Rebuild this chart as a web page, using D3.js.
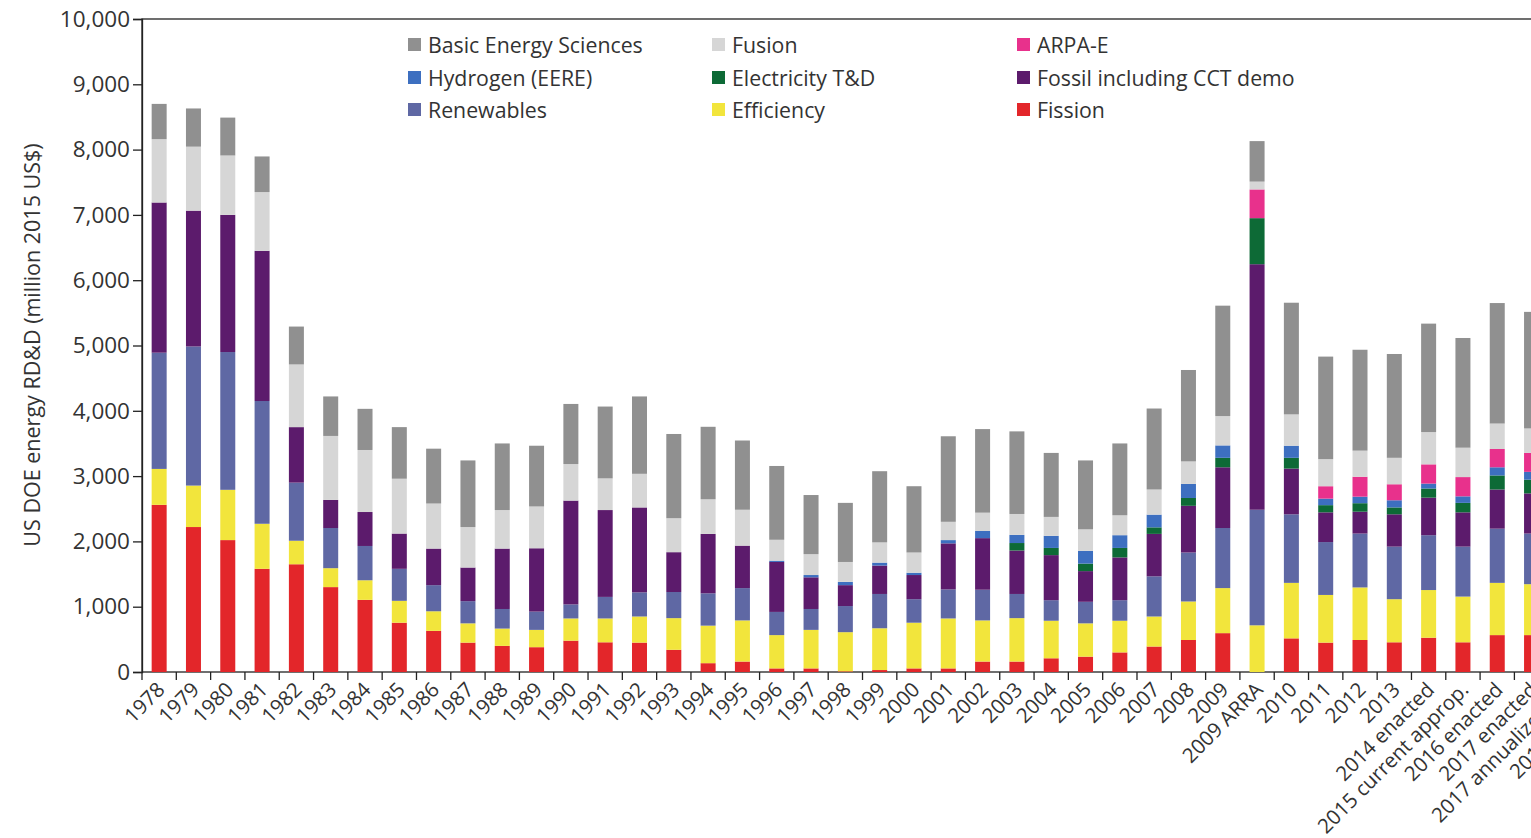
<!DOCTYPE html>
<html>
<head>
<meta charset="utf-8">
<script src="https://cdn.jsdelivr.net/npm/d3@7"></script>
<style>
  html, body { margin: 0; padding: 0; background: #fff; overflow: hidden; }
  svg { display: block; }
  text { font-family: "Open Sans", "Noto Sans", sans-serif; fill: #333; }
</style>
</head>
<body>
<svg id="chart" width="1531" height="838"></svg>
<script>
// ---- Data (million 2015 US$) ----
const categories = ["1978","1979","1980","1981","1982","1983","1984","1985","1986","1987","1988","1989",
  "1990","1991","1992","1993","1994","1995","1996","1997","1998","1999","2000","2001","2002","2003",
  "2004","2005","2006","2007","2008","2009","2009 ARRA","2010","2011","2012","2013","2014 enacted",
  "2015 current approp.","2016 enacted","2017 enacted","2017 annualized CR","2018 request"];

const fission = [2560,2220,2020,1580,1650,1300,1105,755,630,450,400,380,480,455,450,340,135,160,55,55,10,30,55,55,160,160,210,235,300,390,490,595,0,515,450,490,455,525,455,565,565];
const efficiency = [550,635,770,690,360,290,300,335,300,295,265,265,340,365,400,485,575,630,510,590,600,640,700,765,630,665,575,510,485,460,590,690,715,850,730,805,660,730,700,800,780];
const renewables = [1780,2130,2110,1880,890,615,525,490,400,340,300,280,215,330,370,400,495,495,355,320,400,525,360,445,470,370,315,330,315,615,750,920,1770,1050,810,825,805,840,765,830,775];
const fossil = [2300,2080,2100,2300,850,430,520,540,560,515,925,970,1590,1330,1300,610,910,650,765,485,320,435,370,705,790,665,690,470,655,650,715,930,3760,700,455,335,495,575,525,600,615];
const electricity = [0,0,0,0,0,0,0,0,0,0,0,0,0,0,0,0,0,0,0,0,0,0,0,0,0,115,110,115,145,100,120,145,705,165,110,130,105,140,145,215,210];
const hydrogen = [0,0,0,0,0,0,0,0,0,0,0,0,0,0,0,0,0,0,20,35,50,45,35,50,110,125,185,195,195,195,215,190,0,185,100,100,110,75,100,125,120];
const arpae = [0,0,0,0,0,0,0,0,0,0,0,0,0,0,0,0,0,0,0,0,0,0,0,0,0,0,0,0,0,0,0,0,440,0,190,305,245,295,295,280,290];
const fusion = [970,980,910,900,960,980,950,840,690,620,590,640,560,485,515,520,530,550,320,320,305,310,310,280,280,320,290,330,305,385,345,450,120,480,415,400,405,495,450,390,375];
const bes = [540,585,580,545,580,605,630,790,840,1020,1020,930,920,1100,1185,1290,1110,1060,1130,905,905,1090,1015,1310,1280,1265,980,1055,1100,1240,1400,1690,620,1710,1570,1545,1590,1660,1680,1845,1785];

const yTicks = [0,1000,2000,3000,4000,5000,6000,7000,8000,9000,10000];

// stacking order bottom -> top
const seriesKeys = ["Fission","Efficiency","Renewables","Fossil including CCT demo","Electricity T&D","Hydrogen (EERE)","ARPA-E","Fusion","Basic Energy Sciences"];
const seriesValues = [fission, efficiency, renewables, fossil, electricity, hydrogen, arpae, fusion, bes];
const colors = {
  "Fission": "#e3262a",
  "Efficiency": "#f2e53c",
  "Renewables": "#5f68a4",
  "Fossil including CCT demo": "#5c1b6c",
  "Electricity T&D": "#0d6a36",
  "Hydrogen (EERE)": "#3d6fc0",
  "ARPA-E": "#e8318c",
  "Fusion": "#d6d6d6",
  "Basic Energy Sciences": "#909090"
};
// legend layout (column-major as in figure)
const legendOrder = [
  ["Basic Energy Sciences","Hydrogen (EERE)","Renewables"],
  ["Fusion","Electricity T&D","Efficiency"],
  ["ARPA-E","Fossil including CCT demo","Fission"]
];

// ---- Build table ----
const table = fission.map((_, i) => {
  const row = { cat: categories[i] };
  seriesKeys.forEach((k, j) => row[k] = seriesValues[j][i]);
  return row;
});

const svg = d3.select("#chart");
const mLeft = 142, mTop = 19, mBottom = 672;
const step = 34.31;
const x = d3.scaleBand().domain(categories).range([mLeft, mLeft + step * categories.length]).padding(0);
const y = d3.scaleLinear().domain([0, 10000]).range([mBottom, mTop]);
const barW = 15;

const stacked = d3.stack().keys(seriesKeys)(table);

// frame
svg.append("rect").attr("x", mLeft).attr("y", mTop)
  .attr("width", x.range()[1] - mLeft + 50).attr("height", mBottom - mTop)
  .attr("fill", "none").attr("stroke", "#222").attr("stroke-width", 1.3);

// bars
svg.append("g").selectAll("g").data(stacked).join("g")
  .attr("fill", d => colors[d.key])
  .selectAll("rect").data(d => d).join("rect")
  .attr("x", d => x(d.data.cat) + x.bandwidth() / 2 - barW / 2)
  .attr("width", barW)
  .attr("y", d => y(d[1]))
  .attr("height", d => Math.max(0, y(d[0]) - y(d[1])));

// y axis
const yAxis = svg.append("g").attr("transform", `translate(${mLeft},0)`)
  .call(d3.axisLeft(y).tickValues(yTicks).tickFormat(d3.format(",")).tickSize(9).tickPadding(3));
yAxis.select(".domain").attr("stroke", "#222").attr("stroke-width", 1.3);
yAxis.selectAll(".tick line").attr("stroke", "#222").attr("stroke-width", 1.3);
yAxis.selectAll("text").style("font-size", "22.5px").attr("fill", "#333");

// x axis (labels) + boundary ticks
const xAxis = svg.append("g").attr("transform", `translate(0,${mBottom})`)
  .call(d3.axisBottom(x).tickSize(0).tickPadding(0));
xAxis.select(".domain").remove();
xAxis.selectAll("text")
  .style("font-size", "20.5px")
  .attr("fill", "#333")
  .attr("text-anchor", "end")
  .attr("dy", null)
  .attr("y", 0)
  .attr("transform", "translate(7,19) rotate(-45)");

svg.append("g").selectAll("line").data(categories).join("line")
  .attr("x1", d => x(d)).attr("x2", d => x(d))
  .attr("y1", mBottom).attr("y2", mBottom + 8)
  .attr("stroke", "#222").attr("stroke-width", 1.3);

// y title
svg.append("text")
  .attr("transform", `translate(40,345) rotate(-90)`)
  .attr("text-anchor", "middle")
  .style("font-size", "21.5px")
  .text("US DOE energy RD&D (million 2015 US$)");

// legend
const colX = [408, 712, 1017];
const rowY = [45, 78, 110];
legendOrder.forEach((col, ci) => {
  col.forEach((key, ri) => {
    const g = svg.append("g").attr("transform", `translate(${colX[ci]},${rowY[ri]})`);
    g.append("rect").attr("x", 0).attr("y", -7).attr("width", 13).attr("height", 13).attr("fill", colors[key]);
    g.append("text").attr("x", 20).attr("y", 7.5).style("font-size", "21.3px").text(key);
  });
});
</script>
</body>
</html>
